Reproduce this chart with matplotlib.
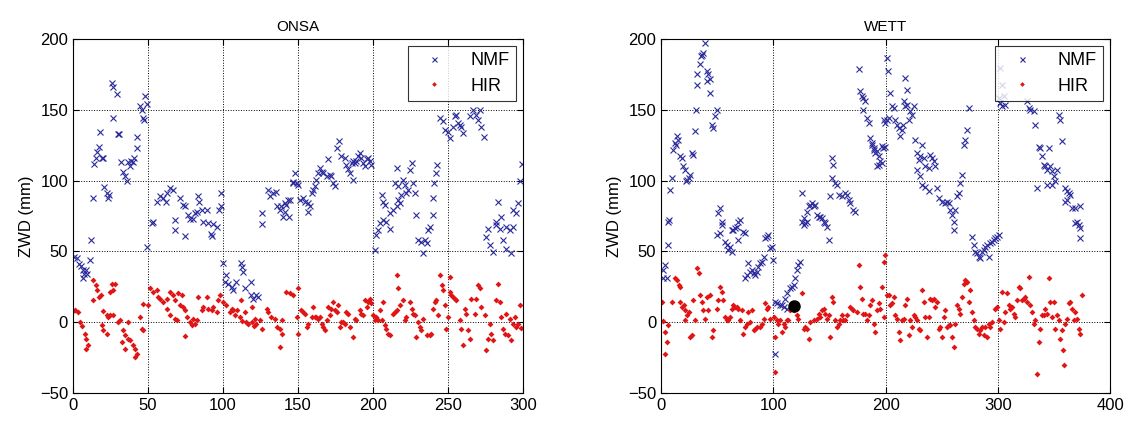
import matplotlib
matplotlib.use('Agg')
import matplotlib.pyplot as plt

plt.rcParams['font.family'] = ['Liberation Sans', 'DejaVu Sans']

# ONSA: NMF (x) and HIR (dots), ZWD in mm vs day
onsa_nmf = [
    (0.7, 45.8), (2.4, 45), (4, 41), (5.3, 40), (6.4, 37), (7.3, 34), (6.4, 31), (8.7, 37), (9.1, 34),
    (11.3, 44), (12, 58), (13.6, 88), (20.9, 95.8), (22.4, 91), (23.1, 88), (24.2, 90), (14, 112),
    (15.3, 116), (15.8, 120), (17.6, 124), (19.1, 116), (20.2, 116), (18, 134), (26.9, 144), (25.8, 169),
    (26.4, 166), (29.1, 161), (30.2, 133), (30.9, 133), (32, 113), (33.5, 106), (34.7, 103), (35.8, 100),
    (36.9, 113), (38.7, 114), (40.2, 113), (38, 110), (40.7, 116), (42.9, 131), (42.4, 123), (44.7, 153),
    (45.8, 150), (46.4, 144), (47.3, 143), (48, 160), (49.6, 154), (49.6, 53), (52.4, 70), (53.6, 70.5),
    (55.8, 85), (58, 89), (60.2, 87.6), (62.4, 91), (64.7, 94.7), (66.9, 93.5), (62, 85), (68, 72),
    (71.3, 87.6), (73.6, 83), (74.7, 82), (76.9, 76), (78, 73), (80.2, 73), (81.3, 77), (82.4, 78),
    (83.6, 89), (84.2, 85), (85.8, 79), (89.1, 79), (86.9, 71), (90.2, 70), (93.6, 69), (95.8, 67.5),
    (98.5, 91), (99, 82), (97.5, 79), (68, 65), (75, 61), (92, 62), (93, 61),
    (100, 41.5), (102.4, 33.2), (101.3, 28.5), (103.6, 27.3), (105.8, 25), (106.9, 22.6), (109, 28.5),
    (112.4, 41.5), (113, 39.1), (113.1, 35.6), (114.7, 23.8), (119, 28.5), (119, 19.1), (120, 16.7),
    (122.4, 19.1), (123.6, 17.9), (125.8, 77), (126, 69), (130.2, 93.5), (131.3, 89), (133.6, 91),
    (135.3, 92), (135.8, 82), (138, 79), (140.2, 74.6), (142.4, 83), (144.7, 86), (144.2, 74.6),
    (146.9, 98), (148, 105), (139, 81.7), (141.3, 84), (143.6, 86.4), (141.3, 78), (147, 99), (149.1, 98),
    (150.2, 97), (151.3, 86), (153.6, 87.6), (154.7, 85), (156.9, 84), (156.9, 78), (158, 81.7),
    (159.1, 91), (160.2, 93.5), (161.3, 96), (162.4, 100.6), (163.6, 105), (164.7, 109), (165.8, 106),
    (166.9, 105.3), (169.1, 103), (170.2, 115), (171.3, 104), (172.4, 103), (173.6, 98), (174.7, 96),
    (175.8, 123), (177.6, 128), (179.1, 117), (181.3, 116), (182.4, 111), (183.6, 108), (184.7, 105),
    (185.8, 112.4), (186.9, 113.6), (188, 112.4), (189.1, 113.6), (190.2, 117), (191.3, 119.5),
    (192.4, 116), (193.6, 112.4), (194.7, 110), (195.8, 115), (196.9, 116), (198, 113.6), (199.1, 111),
    (186.9, 100.6), (201.3, 51), (202.4, 61.6), (203.6, 65), (204.7, 70), (209.1, 71), (211.3, 66),
    (205.8, 90), (206.9, 85), (208, 83), (206.9, 72), (211.3, 77), (213.6, 79.3), (215.8, 81.7),
    (216.9, 86), (218, 84), (219.1, 90), (215.8, 109), (220.2, 100.6), (221.3, 97), (222.4, 91),
    (223.6, 93.5), (224.7, 107.7), (225.8, 112.4), (226.9, 98), (228, 91), (229.1, 75.8), (214.7, 98),
    (216.9, 96), (230.2, 58), (232.4, 56.9), (234.7, 58), (235.8, 55.7), (233.6, 48.6), (236.9, 65),
    (238, 67.5), (240.2, 75.8), (239.8, 87.6), (240.7, 98), (242, 105), (242.9, 111), (244.7, 144),
    (246.9, 142), (248, 136), (250.2, 134), (251.3, 130), (253.6, 138), (254.7, 145.4), (255.8, 146.6),
    (256.9, 141), (258, 139.5), (259.1, 138), (260.2, 133.6), (264.7, 145.4), (266.9, 150), (269.1, 146.6),
    (271.3, 150), (270.2, 143), (272.4, 138), (274, 131), (275.8, 60.4), (276.9, 66), (278, 54.5),
    (280.2, 49.8), (282.4, 71), (284.7, 66), (286.9, 58), (289.1, 52), (291.3, 65), (293.6, 67.5),
    (292.4, 48.6), (283.6, 85), (282.4, 68.7), (285.8, 74.6), (289.1, 67.5), (293.6, 79), (295.8, 77),
    (296.9, 84), (298, 100), (299.5, 112),
]
onsa_hir = [
    (0.2, 8), (1.3, 8.4), (3.6, 7.3), (4.7, 0.2), (5.8, -2.9), (8, -8), (9, -12), (10.2, -16), (9, -18.7),
    (13.6, 30), (15.3, 26), (16.2, 22.6), (17.6, 17.9), (18.4, 19), (13.6, 15.5), (20.2, 8), (22.4, 5),
    (23.5, 3.7), (24.7, 5), (26.9, 5), (25.8, 27.3), (28, 27.3), (24.7, 21.4), (26.9, 22.6), (19.1, -2.2),
    (20.2, -5.7), (22.4, -8), (30.2, 0.2), (31.3, 1.4), (33.6, -5.7), (34.7, -9.2), (32.4, -14),
    (34.7, -18.7), (36.9, -11.6), (38, -12.8), (40.2, -16.3), (41.3, -18.7), (42.4, -22.2), (41.3, -24.6),
    (36.9, 0.2), (44.7, 3.7), (45.8, -4.5), (46.9, -5.7), (46.9, 13), (50.2, 12), (51.3, 23.8),
    (53.6, 21.4), (55.8, 22.6), (56.9, 17.9), (58, 16.7), (60.2, 14.4), (62.4, 16.7), (64.7, 21.4),
    (66.9, 19.1), (68, 15.5), (70.2, 20.3), (72.4, 19.1), (62.4, 9.6), (64.7, 4.9), (68, 2.6), (69.1, 1.4),
    (71.3, 12), (73.6, 10.8), (74.7, 8.5), (75.8, 3.7), (75, -10), (78, 0.2), (80.2, 2.6), (81.3, -1),
    (79.1, -2.2), (82.4, 1.4), (83.6, 17.9), (85.8, 8.5), (86.9, 10.8), (89.1, 17.9), (90.2, 9.6),
    (92.4, 8.5), (93.6, 10.8), (95.8, 7.3), (96.9, 15.5), (98, 19.1), (100.2, 14.4), (102.4, 12),
    (104.7, 7.3), (105.8, 9.6), (106.9, 8.5), (108, 4.9), (109.1, 8.5), (111.3, 3.7), (112.4, 15.5),
    (112.5, 0.5), (114.7, 7.3), (115.5, 0), (117, -1), (119.1, 10.8), (119.5, 0), (120.5, -3),
    (121.3, 2.6), (122.4, -1), (124.7, 1.4), (125.8, -4.5), (129.1, 9.6), (130.2, 7.3), (132.4, 3.7),
    (134.7, 2.6), (135.8, -3.3), (138, -4.5), (139.1, 1.4), (139.1, -8), (138, -17.5), (142.4, 21.4),
    (144.7, 20.3), (146.9, 19.1), (149.1, 3.7), (150.2, -8), (150.2, 23.8), (152, 8.5), (153.1, 7.3),
    (154.7, 6), (155.8, -3.3), (156.9, -1), (159.1, 3.7), (160.2, 10.8), (161.3, 3.7), (162.4, 3.7),
    (163.6, 2.6), (164.7, 3.7), (165.8, -1), (166.9, -3.3), (168, -5.7), (169.1, 1.4), (170.2, 10.8),
    (171.3, 4.9), (172.4, 9.6), (173.6, 14.4), (174.7, 8.5), (175.8, 7.3), (176.9, 12), (178, -3.3),
    (179.1, 0.2), (180.2, 0.2), (181.3, -1), (182.4, 7.3), (183.6, 6.1), (184.7, -3.3), (186.9, -10.4),
    (188, 2.6), (189.1, 1.4), (191.3, 8.5), (192.4, 6.1), (193.6, 4.9), (194.7, 15.5), (195.8, 10.8),
    (196.9, 14.4), (198, 16.7), (199.1, 13.2), (200.2, 4.9), (201.3, 1.4), (202.4, 3.7), (203.6, 1.4),
    (204.7, 8.5), (205.8, 1.4), (206.9, 14.4), (208, -2.2), (209.1, -4.5), (210.2, -8.1), (211.3, -9.2),
    (213.6, 6.1), (214.7, 7.3), (215.8, 8.5), (216.9, 23.8), (215.8, 33.2), (218, 12), (220.2, 15.5),
    (221.3, 1.4), (222.4, 3.7), (224.7, 14.4), (225.8, 9.6), (226.9, 6.1), (228, 4.9), (229.1, -10.4),
    (230.2, 0.2), (231.3, -3.3), (232.4, -5.7), (233.6, 2.6), (235.8, -9.2), (238, -9.2), (239.1, -8.1),
    (240.2, 9.6), (241.3, 14.4), (242.4, 15.5), (243.6, 4.9), (244.7, 33.2), (245.8, 26.2), (246.9, 22.6),
    (248, 12), (249.1, -4.5), (250.2, 3.7), (251.3, 32), (251.3, 21.4), (252.4, 19.1), (253.6, 17.9),
    (254.7, 16.7), (255.8, 15.5), (258, 1.4), (259.1, -4.5), (260.2, -16.3), (261.3, 9.6), (262.4, 6.1),
    (263.6, -5.7), (264.7, -11.6), (265.8, 16.7), (268, 6.1), (269.1, 16.7), (270.2, 26.2), (271.3, 23.8),
    (272.4, 10.8), (274.7, 4.9), (275.8, -19.9), (276.9, -11.6), (278, -1), (279.1, -8.1), (280.2, -12.8),
    (282.4, 15.5), (283.6, 27.3), (284.7, 14.4), (285.8, 3.7), (286.9, -4.5), (288, -8.1), (289.1, 6.1),
    (290.2, -9.2), (291.3, 2.6), (292.4, -12.8), (293.6, -1), (294.7, 3.7), (295.8, -3.3), (296.9, -1),
    (298, 12), (299, -4),
]

# WETT
wett_nmf = [
    (2, 36.8), (3.6, 40.3), (1.5, 30.9), (5, 30.9), (6.5, 54.5), (6.5, 71), (8, 93.5), (9.5, 101.7),
    (7.4, 72.2), (11, 121.8), (12.5, 126.5), (14, 131.3), (15.4, 128.9), (13.4, 125.4), (16.9, 117),
    (18.4, 116), (19.9, 110), (21.4, 107.7), (22.9, 100.6), (24.4, 101.7), (25.8, 104), (22.3, 99.4),
    (27.3, 119.5), (28.8, 118.3), (30.3, 134.8), (30.9, 150.1), (31.8, 167.8), (32.4, 174.9), (34.7, 182),
    (36.2, 189), (37.7, 190.3), (39.2, 197.4), (35.3, 187.9), (40.7, 177.3), (42.2, 174.9), (43.1, 171.4),
    (41.3, 170.2), (43.7, 161.9), (45.1, 139.5), (46.6, 137.2), (48.1, 145.4), (49.6, 150.1), (51.1, 77),
    (52.6, 80.5), (54, 71), (63, 65), (67.4, 67.5), (68.9, 71), (70.4, 72.2), (49.6, 61.6), (52.6, 62.8),
    (54, 68.7), (57, 56.9), (58.5, 54.5), (60, 51), (61.5, 53.3), (63, 49.8), (64.4, 65.1), (65.9, 66.3),
    (68.9, 58), (73.3, 64), (74.8, 62.8), (74.8, 30.9), (76.3, 33.2), (77.8, 41.5), (79.3, 35.6),
    (80.8, 36.8), (82.3, 34.4), (83.7, 33.2), (85.2, 35.6), (86.7, 39.1), (88.2, 41.5), (89.7, 42.7),
    (91.2, 46.2), (92.7, 59.2), (94.1, 60.4), (95.6, 61.6), (97.1, 52.1), (98.6, 53.3), (99.5, 43.9),
    (101.6, -22.2), (101.6, 14.4), (103, 13.2), (106, 12), (107.5, 12), (109, 10.8), (112, 9.6),
    (110.5, 16.7), (112, 20.3), (114.9, 23.8), (116.4, 25), (117.9, 26.2), (119.4, 30.9), (120.9, 36.8),
    (122.3, 40.3), (123.8, 42.7), (125.3, 71), (126.8, 68.7), (129.8, 71), (146.1, 69.9), (147.6, 67.5),
    (149.1, 58), (125.3, 91.1), (126.8, 73.4), (128.3, 69.9), (129.8, 78.1), (131.3, 81.7), (132.7, 82.9),
    (134.2, 84), (135.7, 81.7), (137.2, 82.9), (138.7, 75.8), (140.2, 74.6), (141.6, 74.6), (143.1, 73.4),
    (144.6, 71), (150.6, 88.8), (152, 115.9), (153.5, 111.2), (152, 101.7), (155, 98.2), (156.5, 97),
    (158, 89.9), (161, 88.8), (163.9, 91.1), (165.4, 89.9), (166.9, 86.4), (168.4, 84), (171.3, 79.3),
    (172.8, 78.1), (175.8, 178.5), (177.3, 163.1), (178.8, 159.6), (180.2, 158.4), (181.7, 156),
    (180.2, 150.1), (183.2, 144.2), (184.7, 140.7), (186.2, 130.1), (187.7, 125.4), (189.2, 121.8),
    (190.6, 119.5), (192.1, 120.6), (193.6, 117.1), (195.1, 113.5), (196.6, 112.4), (192.1, 110),
    (198.1, 143), (199.6, 124), (201, 186.7), (201.6, 177.3), (187.7, 126.5), (189.2, 123), (194.1, 111.2),
    (196.6, 124.2), (198, 123), (199.6, 140.7), (201, 143), (202.5, 144.2), (204, 162), (205.5, 152.5),
    (207, 151.3), (208.5, 143), (210, 139.5), (211.4, 137.2), (212.9, 131.3), (214.4, 136), (215.3, 139.5),
    (215.9, 156), (217.4, 152.5), (218.9, 153.7), (217.4, 172.6), (218.9, 164.3), (221.8, 149),
    (220.4, 143), (223.3, 146.6), (224.8, 152.5), (226.3, 128.9), (227.8, 119.5), (229.3, 114.7),
    (230.7, 117.1), (232.2, 125.4), (233.7, 116), (235.2, 110), (238.2, 108.8), (239.7, 118.3),
    (241.1, 116), (242.6, 113.5), (244.1, 110), (227.8, 107.7), (230.7, 103), (232.2, 97), (235.2, 95.8),
    (238.2, 92.3), (245.6, 94.7), (247.1, 87.6), (250, 85.2), (253, 84), (254.5, 85.2), (256, 84),
    (257.5, 79.3), (259, 75.8), (260.4, 71), (261.9, 79.3), (263.4, 88.8), (264.9, 91.1), (266.4, 98.2),
    (267.9, 104), (269.3, 125.4), (270.8, 128.9), (272.3, 136), (273.8, 151.3), (260.4, 65.1),
    (276.8, 60.4), (278.3, 54.5), (279.7, 49.8), (281.2, 48.6), (282.7, 46.2), (284.2, 45), (285.7, 49.8),
    (287.2, 51), (288.7, 53.3), (290.1, 54.5), (291.6, 46.2), (293.1, 55.7), (294.6, 56.9), (296.1, 58),
    (297.6, 59.2), (299, 60.4), (300.5, 61.6), (300.5, 158), (302, 155), (303.5, 152.5), (302, 179.7),
    (303.5, 167.8), (305, 159.6), (306.5, 153.7), (325.8, 156), (327.3, 151.3), (328.7, 150.1),
    (331.7, 149), (333.2, 139.5), (336.2, 124), (337.6, 123), (339.1, 117), (340.6, 111), (342.1, 110),
    (343.6, 107.7), (345.1, 123), (346.6, 110), (348, 106.5), (349.5, 103), (351, 99.4), (352.5, 107.7),
    (354, 146.6), (355.5, 143), (356.9, 127.7), (334.7, 94.7), (343.6, 97), (348, 97), (359.9, 94.7),
    (361.4, 92.3), (362.9, 91.1), (364.4, 89.9), (359.9, 85.2), (361.4, 86.4), (365.9, 80.5),
    (368.8, 80.5), (373.3, 81.7), (370.3, 71), (371.8, 68.7), (373.3, 66.3), (368.8, 69.9), (373.3, 59.2),
]
wett_hir = [
    (0.6, 14.4), (2, 1), (3.5, -6.9), (5, -14), (3.5, -22.2), (6.5, -2.2), (9.5, 14.4), (12.5, 30.9),
    (14, 29.7), (15.5, 26.2), (17, 25), (17, 14.4), (18.5, 10.8), (20, 12), (21.4, 8.5), (22.9, 4.9),
    (21.4, 1.4), (24.4, 7.3), (25.8, -10.4), (27.3, -9.2), (28.8, 15.5), (30.3, 1.4), (31.8, 38),
    (33.3, 34.4), (34.7, 19.1), (36.2, 14.4), (37.7, 8.5), (39.2, 2.6), (40.7, 17.9), (42.2, 8.5),
    (43.7, 19.1), (45.1, -10.4), (46.6, -5.7), (49.6, 9.6), (51.1, 15.5), (52.6, 25), (54, 21.4),
    (55.5, 15.5), (57, 3.7), (58.5, 1.4), (60, 1.4), (61.5, 3.7), (63, 9.6), (64.4, 12), (65.9, 10.8),
    (67.4, 10.8), (68.9, 9.6), (70.4, 1.4), (71.9, 8.5), (73.3, -8.1), (74.8, -3.3), (76.3, -1),
    (77.8, 7.3), (79.3, 0.2), (80.8, 8.5), (82.3, -5.7), (83.7, -4.5), (85.2, -3.3), (88.2, -3.3),
    (89.7, -1), (91.2, 2.6), (92.7, 13.2), (94.1, 9.6), (95.6, 10.8), (97.1, 2.6), (100.1, 3.7),
    (101.6, -10.4), (103, 1.4), (104.5, -1), (101.6, -35.2), (106, 1.4), (107.5, -6.9), (109, -1),
    (110.5, -3.3), (112, 1.4), (113.4, 1.4), (114.9, 8.5), (116.4, 9.6), (117.9, 8.5), (120.9, 4.9),
    (122.3, 2.6), (125.3, 20.3), (126.8, -4.5), (128.3, -3.3), (129.8, -4.5), (131.3, -11.6), (132.7, 0.2),
    (135.7, 1.4), (138.7, 2.6), (140.2, 6.1), (141.6, 3.7), (143.1, 8.5), (144.6, 9.6), (146.1, 6.1),
    (147.6, 2.6), (149.1, 4.9), (150.6, -10.4), (152, 17.9), (153.5, 14.4), (155, 1.4), (156.5, -3.3),
    (158, -1), (159.5, 1.4), (161, 4.9), (162.4, 1.4), (163.9, 1.4), (165.4, 4.9), (168.4, 10.8),
    (169.9, 9.6), (171.3, 8.5), (174.3, 7.3), (175.8, 40.3), (177.3, 25), (178.8, 16.7), (180.2, 6.1),
    (181.7, 6.1), (183.2, 1.4), (184.7, 4.9), (186.2, 12), (187.7, 15.5), (189.2, -1), (190.6, -6.9),
    (192.1, 8.5), (193.6, 13.2), (195.1, 9.6), (196.6, 25), (198.1, 42.7), (199.6, 47.4), (201, 19.1),
    (198.1, 3.7), (202.5, 19.1), (204, 12), (205.5, 13.2), (207, 17.9), (208.5, 4.9), (210, 2.6),
    (211.4, -6.9), (212.9, -12.8), (214.4, 1.4), (215.9, 2.6), (217.4, 12), (218.9, 16.7), (220.4, -9.2),
    (221.8, 1.4), (223.3, -3.3), (224.8, 4.9), (226.3, 3.7), (227.8, 1.4), (229.3, -4.5), (230.7, -5.7),
    (232.2, 22.6), (233.7, 14.4), (235.2, 3.7), (236.7, -10.4), (238.2, 3.7), (239.7, 16.7), (241.1, 15.5),
    (242.6, 16.7), (244.1, 10.8), (245.6, 14.4), (247.1, -4.5), (248.6, -3.3), (250, -10.4), (251.5, 3.7),
    (253, 8.5), (254.5, -3.3), (256, -2.2), (257.5, -2.2), (259, -10.4), (260.4, -17.5), (261.9, -1),
    (263.4, 12), (264.9, 9.6), (266.4, 6.1), (267.9, 17.9), (269.3, 27.3), (270.8, 29.7), (272.3, 28.5),
    (273.8, 14.4), (275.3, 22.6), (276.8, 7.3), (278.3, 1.4), (279.7, -3.3), (281.2, -4.5), (282.7, -8.1),
    (284.2, -5.7), (285.7, -3.3), (287.2, -9.2), (288.7, -3.3), (290.1, -10.4), (291.6, -1), (293.1, -3.3),
    (294.6, 0.2), (297.6, 9.6), (299, 10.8), (300.5, 1.4), (302, -4.5), (303.5, 21.4), (305, 0.2),
    (306.5, 7.3), (308, 20.3), (309.4, 12), (310.9, 9.6), (312.4, 10.8), (313.9, 6.1), (315.4, 3.7),
    (316.9, 15.5), (318.3, 25), (319.8, 23.8), (321.3, 15.5), (322.8, 16.7), (324.3, 17.9), (325.8, 14.4),
    (327.3, 32), (328.7, 12), (330.2, 7.3), (331.7, -1), (333.2, 1.4), (334.7, -36.4), (336.2, -14),
    (337.6, -4.5), (339.1, 4.9), (340.6, 4.9), (342.1, 9.6), (343.6, 6.1), (345.1, 30.9), (346.6, 14.4),
    (348, 3.7), (349.5, 14.4), (351, -4.5), (352.5, 4.9), (354, 1.4), (355.5, -11.6), (356.9, -5.7),
    (357.8, -19.9), (358.4, -30.5), (359.9, -1), (361.4, 2.6), (362.9, 13.2), (364.4, 14.4), (365.9, 9.6),
    (367.3, 1.4), (368.8, 7.3), (370.3, 2.6), (371.8, -4.5), (373.3, -8.1), (374.8, 19.1),
]
wett_mark_x = [118.5]
wett_mark_y = [11.5]

panels = [
    ('ONSA', onsa_nmf, onsa_hir, 300, [0, 50, 100, 150, 200, 250, 300]),
    ('WETT', wett_nmf, wett_hir, 400, [0, 100, 200, 300, 400]),
]

fig = plt.figure(figsize=(11.33, 4.21), dpi=100)
axes_pos = [[0.0644, 0.0665, 0.397, 0.841], [0.5835, 0.0665, 0.3965, 0.841]]

for pos, (name, nmf, hir, xmax, xticks) in zip(axes_pos, panels):
    ax = fig.add_axes(pos)
    nx, ny = zip(*nmf)
    hx, hy = zip(*hir)
    ax.plot(nx, ny, 'x', color='#2a2a9c', markersize=4.5, markeredgewidth=0.8, label='NMF')
    ax.plot(hx, hy, 'D', color='#e01515', markersize=3.0, markeredgewidth=0, label='HIR')
    if name == 'WETT':
        ax.plot(wett_mark_x, wett_mark_y, 'o', color='black', markersize=8)
    ax.set_xlim(0, xmax)
    ax.set_ylim(-50, 200)
    ax.set_xticks(xticks)
    ax.set_yticks([-50, 0, 50, 100, 150, 200])
    ax.grid(True, linestyle=':', color='black', linewidth=0.7)
    ax.tick_params(direction='in', top=True, right=True, labelsize=12, length=4)
    ax.set_ylabel('ZWD (mm)', fontsize=12)
    ax.set_title(name, fontsize=11)
    leg = ax.legend(loc='upper right', fontsize=13, frameon=True, fancybox=False,
                    edgecolor='black', handlelength=2.2, handletextpad=0.9, borderpad=0.35,
                    labelspacing=0.45, borderaxespad=0.4, markerscale=0.8)
    leg.get_frame().set_linewidth(0.8)

fig.savefig('out.png', dpi=100)
